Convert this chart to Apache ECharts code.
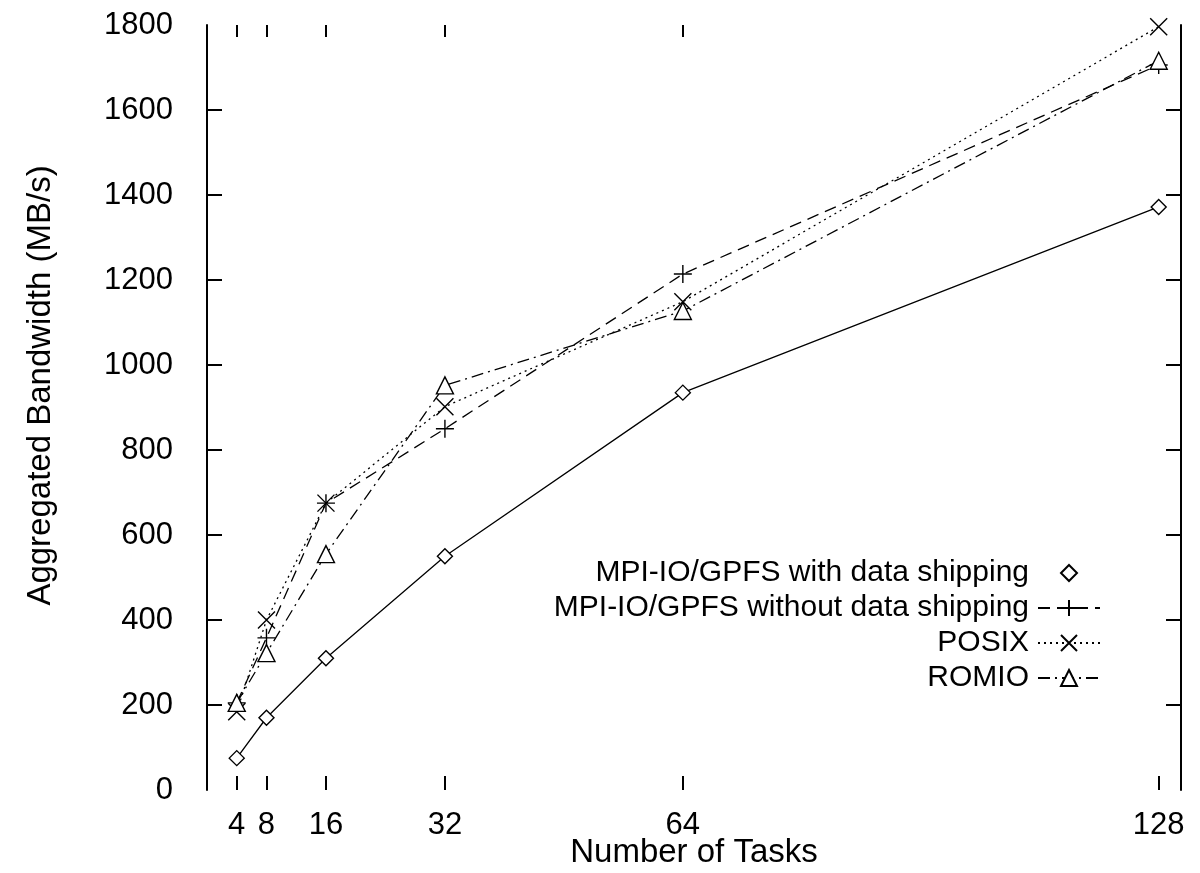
<!DOCTYPE html>
<html>
<head>
<meta charset="utf-8">
<script src="https://cdn.jsdelivr.net/npm/echarts@6/dist/echarts.min.js"></script>
<style>html,body{margin:0;padding:0;background:#fff;}#chart{width:1200px;height:873px;}</style>
</head>
<body>
<div id="chart"></div>
<script>
const tasks = [4, 8, 16, 32, 64, 128];
const topTicks = [4, 8, 16, 32, 64];
const yTicks = [200, 400, 600, 800, 1000, 1200, 1400, 1600];
const seriesNames = [
  'MPI-IO/GPFS with data shipping',
  'MPI-IO/GPFS without data shipping',
  'POSIX',
  'ROMIO'
];
const withShipping = [75, 170, 310, 550, 935, 1372];
const withoutShipping = [205, 358, 675, 850, 1214, 1706];
const posix = [184, 400, 675, 902, 1149, 1796];
const romio = [205, 322, 555, 952, 1127, 1716];

const FONT = '"Liberation Sans", Arial, Helvetica, sans-serif';
const pairs = vals => tasks.map((t, i) => [t, vals[i]]);
const plusPath = 'path://M5,0L5,10M0,5L10,5';
const crossPath = 'path://M0,0L10,10M10,0L0,10';

function mk(name, vals, symbol, size, dash) {
  return {
    name: name, type: 'line', data: pairs(vals),
    symbol: symbol, symbolSize: size, showAllSymbol: true,
    lineStyle: { color: '#000', width: 1.3, type: dash },
    itemStyle: { color: '#fff', borderColor: '#000', borderWidth: 1.4 },
    emphasis: { disabled: true }, animation: false
  };
}

const chart = echarts.init(document.getElementById('chart'), null, { renderer: 'canvas' });
chart.setOption({
  backgroundColor: '#fff',
  animation: false,
  textStyle: { fontFamily: FONT, color: '#000' },
  grid: { left: 207, right: 19, top: 25, bottom: 83, containLabel: false, outerBoundsMode: 'none' },
  legend: {
    orient: 'vertical', align: 'right', right: 94, top: 553,
    itemWidth: 62, itemHeight: 20, itemGap: 5,
    textStyle: { fontFamily: FONT, fontSize: 30, color: '#000', padding: [0, 4, 0, 0] },
    data: [
      { name: seriesNames[0], lineStyle: { opacity: 0 } },
      { name: seriesNames[1] },
      { name: seriesNames[2] },
      { name: seriesNames[3] }
    ],
    selectedMode: false
  },
  xAxis: [
    {
      type: 'value', position: 'bottom', min: 0, max: 131,
      name: 'Number of Tasks', nameLocation: 'middle', nameGap: 46, nameMoveOverlap: false,
      nameTextStyle: { fontFamily: FONT, fontSize: 33, color: '#000' },
      axisLine: { show: false, onZero: false },
      axisTick: { show: true, inside: true, length: 14, customValues: tasks, lineStyle: { color: '#000', width: 2 } },
      axisLabel: { customValues: tasks, fontFamily: FONT, fontSize: 31, color: '#000', margin: 20 },
      splitLine: { show: false }
    },
    {
      type: 'value', position: 'top', min: 0, max: 131,
      axisLine: { show: false, onZero: false },
      axisTick: { show: true, inside: true, length: 12, customValues: topTicks, lineStyle: { color: '#000', width: 2 } },
      axisLabel: { show: false },
      splitLine: { show: false }
    }
  ],
  yAxis: [
    {
      type: 'value', position: 'left', min: 0, max: 1800, interval: 200,
      name: 'Aggregated Bandwidth (MB/s)', nameLocation: 'middle', nameGap: 150,
      nameTextStyle: { fontFamily: FONT, fontSize: 33, color: '#000', padding: [0, 0, 0, 44] },
      axisLine: { show: true, onZero: false, lineStyle: { color: '#000', width: 2 } },
      axisTick: { show: true, inside: true, length: 15, customValues: yTicks, lineStyle: { color: '#000', width: 2 } },
      axisLabel: { fontFamily: FONT, fontSize: 31, color: '#000', margin: 34, formatter: v => String(v) },
      splitLine: { show: false }
    },
    {
      type: 'value', position: 'right', min: 0, max: 1800, interval: 200,
      axisLine: { show: true, onZero: false, lineStyle: { color: '#000', width: 2 } },
      axisTick: { show: true, inside: true, length: 15, customValues: yTicks, lineStyle: { color: '#000', width: 2 } },
      axisLabel: { show: false },
      splitLine: { show: false }
    }
  ],
  series: [
    mk(seriesNames[0], withShipping, 'diamond', 15, 'solid'),
    mk(seriesNames[1], withoutShipping, plusPath, 18, [12, 7]),
    mk(seriesNames[2], posix, crossPath, 17, [2, 4]),
    mk(seriesNames[3], romio, 'triangle', 17, [12, 5, 2, 5])
  ]
});
</script>
</body>
</html>
